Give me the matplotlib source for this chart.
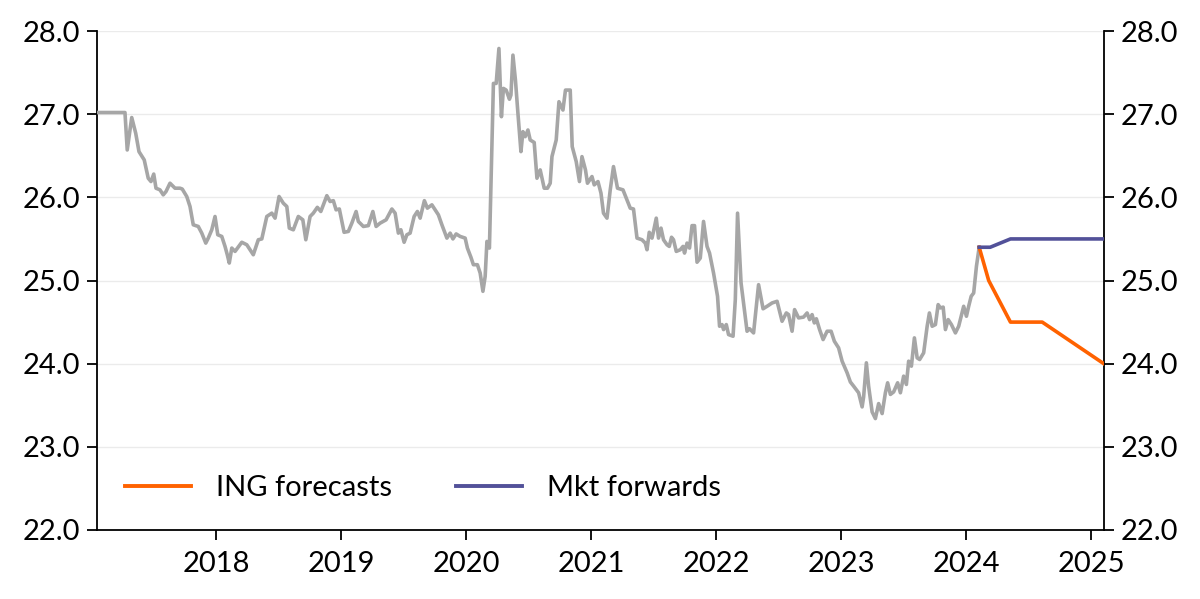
import matplotlib
matplotlib.use("Agg")
import matplotlib.pyplot as plt

# Historical series (decimal year, value)
hist_years = [
    2017.046, 2017.272, 2017.290, 2017.326, 2017.358, 2017.384, 2017.426, 2017.458, 2017.480, 2017.502,
    2017.520, 2017.552, 2017.578, 2017.600, 2017.632, 2017.672, 2017.712, 2017.730, 2017.766, 2017.792,
    2017.818, 2017.858, 2017.886, 2017.918, 2017.938, 2017.966, 2017.992, 2018.014, 2018.046, 2018.072,
    2018.090, 2018.106, 2018.126, 2018.152, 2018.206, 2018.246, 2018.298, 2018.338, 2018.366, 2018.406,
    2018.446, 2018.472, 2018.504, 2018.538, 2018.566, 2018.586, 2018.618, 2018.658, 2018.694, 2018.718,
    2018.752, 2018.778, 2018.810, 2018.838, 2018.886, 2018.912, 2018.938, 2018.960, 2018.986, 2019.024,
    2019.058, 2019.086, 2019.120, 2019.138, 2019.178, 2019.218, 2019.254, 2019.280, 2019.312, 2019.360,
    2019.406, 2019.432, 2019.458, 2019.478, 2019.504, 2019.526, 2019.552, 2019.584, 2019.610, 2019.632,
    2019.666, 2019.690, 2019.726, 2019.752, 2019.778, 2019.806, 2019.846, 2019.872, 2019.894, 2019.920,
    2019.952, 2019.992, 2020.010, 2020.038, 2020.058, 2020.090, 2020.112, 2020.134, 2020.152, 2020.166,
    2020.186, 2020.218, 2020.240, 2020.262, 2020.282, 2020.298, 2020.320, 2020.346, 2020.358, 2020.374,
    2020.394, 2020.414, 2020.438, 2020.454, 2020.472, 2020.494, 2020.512, 2020.544, 2020.566, 2020.592,
    2020.624, 2020.650, 2020.672, 2020.686, 2020.720, 2020.742, 2020.774, 2020.794, 2020.832, 2020.848,
    2020.880, 2020.906, 2020.926, 2020.954, 2020.970, 2021.006, 2021.024, 2021.054, 2021.078, 2021.098,
    2021.126, 2021.152, 2021.178, 2021.210, 2021.254, 2021.286, 2021.312, 2021.338, 2021.366, 2021.406,
    2021.432, 2021.446, 2021.464, 2021.486, 2021.498, 2021.520, 2021.538, 2021.558, 2021.578, 2021.606,
    2021.624, 2021.642, 2021.658, 2021.680, 2021.712, 2021.734, 2021.746, 2021.766, 2021.786, 2021.806,
    2021.826, 2021.846, 2021.872, 2021.898, 2021.926, 2021.946, 2021.978, 2022.010, 2022.026, 2022.046,
    2022.058, 2022.080, 2022.098, 2022.134, 2022.152, 2022.170, 2022.198, 2022.218, 2022.246, 2022.266,
    2022.298, 2022.338, 2022.374, 2022.406, 2022.446, 2022.486, 2022.526, 2022.560, 2022.578, 2022.606,
    2022.626, 2022.658, 2022.698, 2022.726, 2022.746, 2022.766, 2022.784, 2022.800, 2022.826, 2022.854,
    2022.886, 2022.918, 2022.944, 2022.978, 2023.006, 2023.046, 2023.072, 2023.098, 2023.138, 2023.166,
    2023.178, 2023.200, 2023.218, 2023.246, 2023.272, 2023.298, 2023.326, 2023.352, 2023.370, 2023.392,
    2023.418, 2023.450, 2023.472, 2023.498, 2023.520, 2023.538, 2023.560, 2023.584, 2023.606, 2023.626,
    2023.658, 2023.686, 2023.704, 2023.726, 2023.752, 2023.774, 2023.792, 2023.814, 2023.832, 2023.854,
    2023.880, 2023.912, 2023.938, 2023.978, 2024.000, 2024.018, 2024.038, 2024.058, 2024.080, 2024.102,
]
hist_values = [
    27.02, 27.02, 26.57, 26.96, 26.77, 26.55, 26.45, 26.23, 26.19, 26.28,
    26.11, 26.09, 26.03, 26.07, 26.17, 26.11, 26.11, 26.10, 26.01, 25.89,
    25.67, 25.65, 25.57, 25.45, 25.51, 25.61, 25.77, 25.55, 25.53, 25.41,
    25.31, 25.21, 25.39, 25.35, 25.46, 25.43, 25.31, 25.49, 25.50, 25.77,
    25.81, 25.75, 26.01, 25.93, 25.89, 25.63, 25.61, 25.77, 25.73, 25.49,
    25.77, 25.81, 25.88, 25.83, 26.02, 25.95, 25.96, 25.85, 25.86, 25.58,
    25.59, 25.69, 25.83, 25.71, 25.65, 25.66, 25.83, 25.65, 25.69, 25.73,
    25.86, 25.81, 25.57, 25.61, 25.46, 25.55, 25.57, 25.77, 25.83, 25.75,
    25.96, 25.87, 25.91, 25.85, 25.79, 25.67, 25.51, 25.57, 25.50, 25.56,
    25.53, 25.51, 25.39, 25.28, 25.19, 25.19, 25.09, 24.87, 25.05, 25.47,
    25.39, 27.37, 27.37, 27.79, 26.97, 27.31, 27.29, 27.18, 27.23, 27.71,
    27.41, 27.01, 26.55, 26.79, 26.73, 26.81, 26.69, 26.66, 26.23, 26.33,
    26.11, 26.11, 26.17, 26.49, 26.69, 27.15, 27.05, 27.29, 27.29, 26.61,
    26.43, 26.19, 26.49, 26.33, 26.17, 26.25, 26.15, 26.19, 26.05, 25.81,
    25.75, 26.09, 26.37, 26.11, 26.09, 25.97, 25.87, 25.86, 25.51, 25.49,
    25.45, 25.37, 25.58, 25.51, 25.59, 25.75, 25.51, 25.63, 25.49, 25.43,
    25.41, 25.52, 25.49, 25.35, 25.37, 25.41, 25.33, 25.45, 25.39, 25.66,
    25.66, 25.22, 25.27, 25.71, 25.41, 25.33, 25.09, 24.81, 24.45, 24.47,
    24.41, 24.47, 24.35, 24.33, 24.77, 25.81, 24.97, 24.73, 24.39, 24.42,
    24.37, 24.95, 24.66, 24.69, 24.73, 24.75, 24.51, 24.61, 24.59, 24.39,
    24.65, 24.55, 24.56, 24.61, 24.53, 24.59, 24.49, 24.54, 24.41, 24.29,
    24.39, 24.39, 24.27, 24.19, 24.03, 23.89, 23.78, 23.73, 23.65, 23.48,
    23.60, 24.01, 23.73, 23.42, 23.34, 23.52, 23.40, 23.65, 23.77, 23.63,
    23.66, 23.77, 23.65, 23.85, 23.75, 24.03, 23.97, 24.31, 24.07, 24.05,
    24.13, 24.45, 24.61, 24.45, 24.47, 24.71, 24.67, 24.68, 24.41, 24.53,
    24.47, 24.37, 24.45, 24.69, 24.57, 24.69, 24.81, 24.85, 25.17, 25.40,
]

ing_years = [2024.102, 2024.178, 2024.352, 2024.606, 2025.098]
ing_values = [25.4, 25.0, 24.5, 24.5, 24.0]

mkt_years = [2024.102, 2024.190, 2024.352, 2025.098]
mkt_values = [25.4, 25.4, 25.5, 25.5]

x_ticks = [2018, 2019, 2020, 2021, 2022, 2023, 2024, 2025]
x_tick_labels = ["2018", "2019", "2020", "2021", "2022", "2023", "2024", "2025"]
y_ticks = [22, 23, 24, 25, 26, 27, 28]
y_tick_labels = ["22.0", "23.0", "24.0", "25.0", "26.0", "27.0", "28.0"]

plt.rcParams['font.family'] = ['Lato', 'DejaVu Sans']

fig = plt.figure(figsize=(12, 5.99), dpi=100)
ax = fig.add_axes([0.0808, 0.1152, 0.8392, 0.8330])

ax.plot(hist_years, hist_values, color="#A6A6A6", lw=2.6, solid_joinstyle="round", zorder=3)
ax.plot(ing_years, ing_values, color="#FF6200", lw=2.6, label="ING forecasts", zorder=4)
ax.plot(mkt_years, mkt_values, color="#525199", lw=2.6, label="Mkt forwards", zorder=5)

ax.set_xlim(2017.048, 2025.100)
ax.set_ylim(22, 28)
ax.set_xticks(x_ticks)
ax.set_xticklabels(x_tick_labels)
ax.set_yticks(y_ticks)
ax.set_yticklabels(y_tick_labels)

ax.grid(axis="y", color="#EBEBEB", lw=1.0, zorder=0)
ax.set_axisbelow(True)

for side in ["left", "bottom", "right"]:
    ax.spines[side].set_color("black")
    ax.spines[side].set_linewidth(1.3)
ax.spines["top"].set_visible(False)

ax.tick_params(axis="both", which="major", labelsize=21, length=7, width=1.3,
               direction="out", colors="black", pad=5)
ax.tick_params(axis="x", pad=8)
ax.tick_params(axis="y", left=True, right=True, labelleft=True, labelright=True)

leg = ax.legend(loc="lower left", bbox_to_anchor=(0.002, 0.005), ncol=2, frameon=False,
                fontsize=21, handlelength=2.25, handletextpad=0.86, columnspacing=2.2)
for line in leg.get_lines():
    line.set_linewidth(2.8)

fig.savefig("out.png", dpi=100)
